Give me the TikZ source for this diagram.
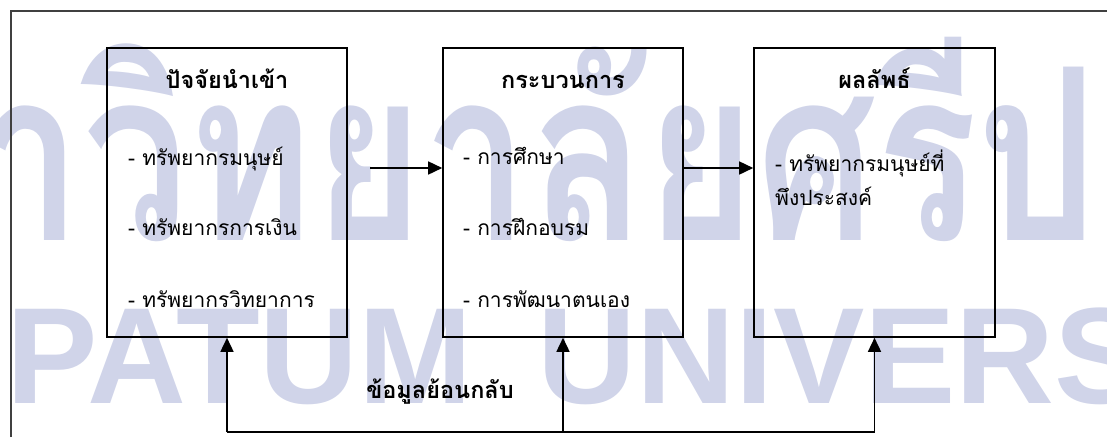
\documentclass[tikz,border=0pt]{standalone}
\usepackage{fontspec}
\newfontfamily\thai[Script=Thai]{Loma}
\newfontfamily\wmlat{Liberation Sans}
\usetikzlibrary{arrows.meta}
\definecolor{wm}{RGB}{208,212,233}
\tikzset{
  box/.style={draw=black, line width=1.6pt, inner sep=0pt},
  frame/.style={draw=black!75, line width=1.4pt},
  title/.style={anchor=base, inner sep=0pt, font=\thai\bfseries\fontsize{23.5}{26}\selectfont},
  item/.style={anchor=base west, inner sep=0pt, font=\thai\fontsize{21}{24}\selectfont},
  conn/.style={line width=1.6pt, -{Triangle[length=14pt,width=13pt]}},
  fb/.style={line width=1.6pt},
  wmtext/.style={anchor=base west, inner sep=0pt, text=wm},
}
\begin{document}
\begin{tikzpicture}[x=1pt,y=-1pt]
\useasboundingbox (0,0) rectangle (1107,437);
% watermark
\begin{scope}
\clip (0,0) rectangle (1107,437);
\node[wmtext] (wmth) at (-24,240)
  {\scalebox{1.26}[1.6]{\thai\bfseries\fontsize{150}{150}\selectfont\llap{มห}าวิทยาลัยศรีปทุม}};
\node[wmtext] (wmen1) at (6,403)
  {\wmlat\bfseries\fontsize{137}{137}\selectfont\llap{SRI}PATUM};
\node[wmtext] (wmen2) at (537,403)
  {\wmlat\bfseries\fontsize{137}{137}\selectfont UNIVERSITY};
\end{scope}
% outer frame
\coordinate (ftl) at (11,11);
\coordinate (fbl) at (11,437);
\coordinate (ftr) at (1107,11);
\draw[frame] (fbl) -- (ftl) -- (ftr);
% boxes
\node[box, minimum width=240pt, minimum height=289pt] (b1) at (227,192.5) {};
\node[box, minimum width=240pt, minimum height=289pt] (b2) at (563,192.5) {};
\node[box, minimum width=241pt, minimum height=289pt] (b3) at (874.5,192.5) {};
% titles
\node[title] (t1) at (227,88) {ปัจจัยนำเข้า};
\node[title] (t2) at (563,88) {กระบวนการ};
\node[title] (t3) at (874.5,88) {ผลลัพธ์};
% items
\node[item] (i11) at (128,165) {- ทรัพยากรมนุษย์};
\node[item] (i12) at (128,235) {- ทรัพยากรการเงิน};
\node[item] (i13) at (128,307) {- ทรัพยากรวิทยาการ};
\node[item] (i21) at (463,164) {- การศึกษา};
\node[item] (i22) at (463,235) {- การฝึกอบรม};
\node[item] (i23) at (463,307) {- การพัฒนาตนเอง};
\node[item] (i31) at (775,171) {- ทรัพยากรมนุษย์ที่};
\node[item] (i32) at (775,205) {พึงประสงค์};
% arrows
\coordinate (a1) at (370,168);
\draw[conn] (a1) -- (a1 -| b2.west);
\draw[conn] (b2.east |- a1) -- (b3.west |- a1);
% feedback
\coordinate (f1) at (227,432);
\coordinate (f2) at (563,432);
\coordinate (f3) at (874.5,432);
\draw[fb] (f1) -- (f3);
\draw[conn] (f1) -- (b1.south);
\draw[conn] (f2) -- (b2.south);
\draw[conn] (f3) -- (b3.south);
\node[title] (fbl) at (440,398) {ข้อมูลย้อนกลับ};
\end{tikzpicture}
\end{document}
